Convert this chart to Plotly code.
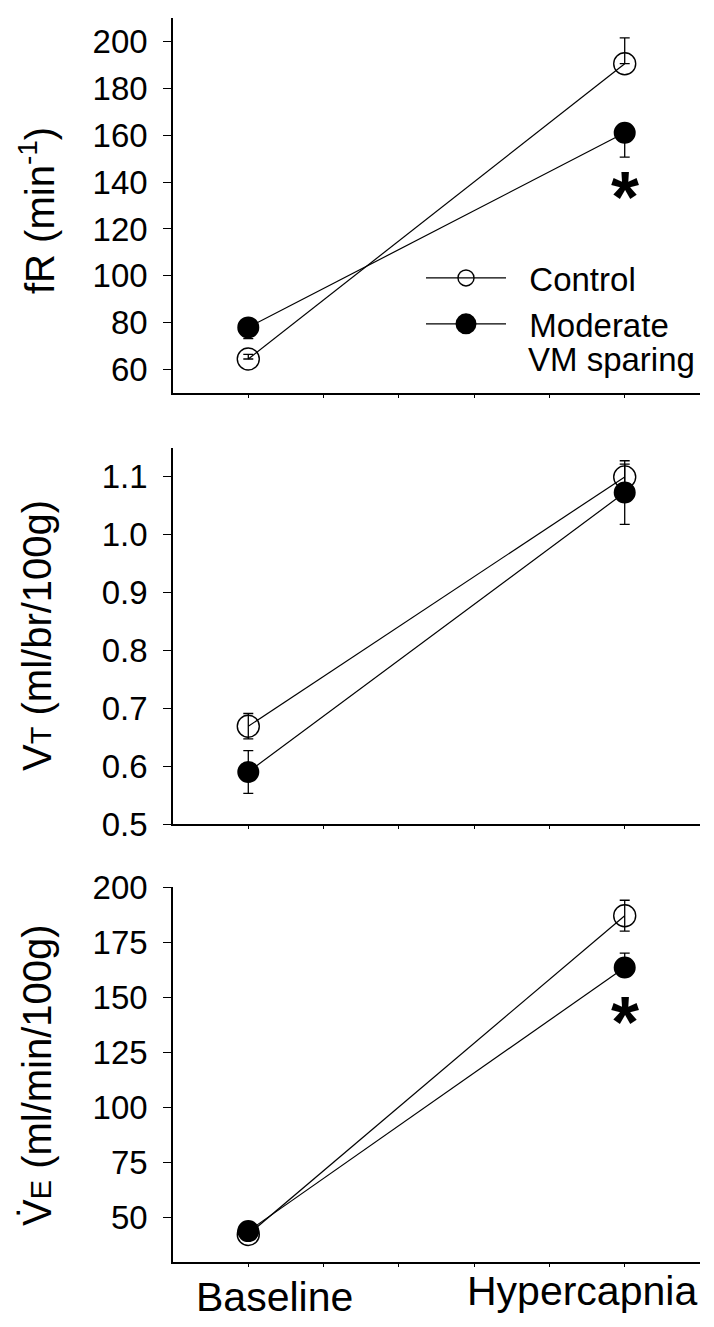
import plotly.graph_objects as go

# page has an 8px body margin; figure is sized to fit the 714x1327 window
W, H = 698, 1327 - 16
OFF = 8

# ---------------- data ----------------
conditions = ["Baseline", "Hypercapnia"]
cond_pos = [1, 6]
x_ticks = [1, 2, 3, 4, 5, 6]

fr_control = [64.5, 190.5]
fr_control_err_up = [2.0, 11.0]
fr_control_err_dn = [0.0, 0.0]
fr_moderate = [78.0, 161.0]
fr_moderate_err_up = [0.0, 0.0]
fr_moderate_err_dn = [4.8, 10.4]

vt_control = [0.669, 1.100]
vt_control_err = [0.022, 0.022]
vt_moderate = [0.590, 1.073]
vt_moderate_err = [0.037, 0.055]

ve_control = [42.5, 187.0]
ve_control_err = [1.5, 7.0]
ve_moderate = [44.0, 163.5]
ve_moderate_err_up = [1.5, 6.5]
ve_moderate_err_dn = [0.0, 0.0]

fr_ticks = [60, 80, 100, 120, 140, 160, 180, 200]
vt_ticks = [0.5, 0.6, 0.7, 0.8, 0.9, 1.0, 1.1]
vt_ticktext = ["0.5", "0.6", "0.7", "0.8", "0.9", "1.0", "1.1"]
ve_ticks = [50, 75, 100, 125, 150, 175, 200]

star_fr = 138.5
star_ve = 144.0

legend_names = ["\u00a0\u00a0Control", "\u00a0\u00a0Moderate"]
legend_extra = "VM sparing"

FONT = "Arial, 'Liberation Sans', sans-serif"


def px(X):
    return (X - OFF) / W


def py(Y):
    return 1 - (Y - OFF) / H


fig = go.Figure()


def add_pair(ctrl, ctrl_up, ctrl_dn, mod, mod_up, mod_dn, xa, ya, legend):
    fig.add_trace(go.Scatter(
        x=cond_pos, y=ctrl, xaxis=xa, yaxis=ya, mode="lines+markers",
        name=legend_names[0], showlegend=legend,
        line=dict(color="black", width=1.2),
        marker=dict(symbol="circle-open", size=22, color="black", line=dict(width=1.4)),
        error_y=dict(type="data", symmetric=False, array=ctrl_up, arrayminus=ctrl_dn,
                     color="black", thickness=1.3, width=5),
    ))
    fig.add_trace(go.Scatter(
        x=cond_pos, y=mod, xaxis=xa, yaxis=ya, mode="lines+markers",
        name=legend_names[1], showlegend=legend,
        line=dict(color="black", width=1.2),
        marker=dict(symbol="circle", size=17, color="black",
                    line=dict(color="black", width=5)),
        error_y=dict(type="data", symmetric=False, array=mod_up, arrayminus=mod_dn,
                     color="black", thickness=1.3, width=5),
    ))


add_pair(fr_control, fr_control_err_up, fr_control_err_dn,
         fr_moderate, fr_moderate_err_up, fr_moderate_err_dn, "x", "y", True)
add_pair(vt_control, vt_control_err, vt_control_err,
         vt_moderate, vt_moderate_err, vt_moderate_err, "x2", "y2", False)
add_pair(ve_control, ve_control_err, ve_control_err,
         ve_moderate, ve_moderate_err_up, ve_moderate_err_dn, "x3", "y3", False)

xdom = [px(173), px(700)]
xcommon = dict(range=[0, 7], tickvals=x_ticks, ticks="outside", ticklen=3, tickwidth=1,
               tickcolor="black", showticklabels=False, showline=True, linecolor="black",
               linewidth=1.5, showgrid=False, zeroline=False, domain=xdom, fixedrange=True,
               automargin=False)
ycommon = dict(ticks="outside", ticklen=8, tickwidth=1.3, tickcolor="black",
               showline=True, linecolor="black", linewidth=1.5, showgrid=False,
               zeroline=False, tickfont=dict(family=FONT, size=33, color="black"),
               ticklabelstandoff=9, automargin=False)

fig.update_layout(
    width=W, height=H, margin=dict(l=0, r=0, t=0, b=0, pad=0, autoexpand=False),
    plot_bgcolor="white", paper_bgcolor="white",
    font=dict(family=FONT, color="black"),
    xaxis=dict(**xcommon, anchor="y"),
    xaxis2=dict(**xcommon, anchor="y2"),
    xaxis3=dict(**xcommon, anchor="y3"),
    yaxis=dict(**ycommon, range=[50, 210], tickvals=fr_ticks, anchor="x",
               domain=[py(393), py(18)]),
    yaxis2=dict(**ycommon, range=[0.5, 1.15], tickvals=vt_ticks, ticktext=vt_ticktext,
                anchor="x2", domain=[py(824), py(448)]),
    yaxis3=dict(**ycommon, range=[30, 200], tickvals=ve_ticks, anchor="x3",
                domain=[py(1262), py(887)]),
    legend=dict(x=px(421), y=py(250), xanchor="left", yanchor="top",
                font=dict(family=FONT, size=33, color="black"),
                bgcolor="rgba(0,0,0,0)", itemwidth=80, valign="middle",
                tracegroupgap=0),
    showlegend=True,
)

ann = []
# y-axis titles
ann.append(dict(text="fR (min<sup>-1</sup>)", x=px(37), y=py(211), xref="paper", yref="paper",
                textangle=-90, showarrow=False, xanchor="center", yanchor="middle",
                font=dict(family=FONT, size=40, color="black")))
ann.append(dict(text="V<span style='font-size:29px'>T</span> (ml/br/100g)", x=px(37), y=py(636),
                xref="paper", yref="paper", textangle=-90, showarrow=False,
                xanchor="center", yanchor="middle",
                font=dict(family=FONT, size=40, color="black")))
ann.append(dict(text="V\u0307<span style='font-size:29px'>E</span> (ml/min/100g)", x=px(37),
                y=py(1075), xref="paper", yref="paper", textangle=-90, showarrow=False,
                xanchor="center", yanchor="middle",
                font=dict(family=FONT, size=40, color="black")))
# category labels
ann.append(dict(text=conditions[0], x=cond_pos[0], xref="x3", y=py(1297), yref="paper",
                xshift=26, showarrow=False, xanchor="center", yanchor="middle",
                font=dict(family=FONT, size=41, color="black")))
ann.append(dict(text=conditions[1], x=cond_pos[1], xref="x3", y=py(1291), yref="paper",
                xshift=-43, showarrow=False, xanchor="center", yanchor="middle",
                font=dict(family=FONT, size=41, color="black")))
# second line of the legend label
ann.append(dict(text=legend_extra, x=px(526), y=py(359), xref="paper", yref="paper",
                showarrow=False, xanchor="left", yanchor="middle",
                font=dict(family=FONT, size=33, color="black")))
# significance stars
for xa, ya, val in (("x", "y", star_fr), ("x3", "y3", star_ve)):
    ann.append(dict(text="<b>*</b>", x=cond_pos[1], y=val, xref=xa, yref=ya, showarrow=False,
                    xanchor="center", yanchor="middle", yshift=-11,
                    font=dict(family=FONT, size=72, color="black")))
fig.update_layout(annotations=ann)

fig.write_html("out.html")
